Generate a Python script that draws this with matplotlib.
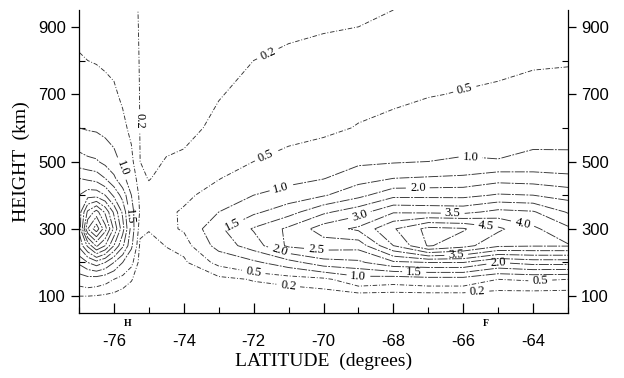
import numpy as np
import matplotlib
matplotlib.use("Agg")
from matplotlib import pyplot as plt
from matplotlib.ticker import MultipleLocator

plt.rcParams['axes.unicode_minus'] = False

# grid (latitude columns, height rows)
latitudes = [-77, -76.75, -76.5, -76.25, -76, -75.75, -75.5, -75.25, -75, -74.5,
             -74, -73, -72, -71, -70, -69, -68, -67, -66, -65, -64, -63]
heights = [50, 100, 150, 200, 250, 300, 350, 400, 450, 500, 600, 700, 800, 900, 950]

# one profile per latitude, values at the heights above
profiles = [
    [0.02, 0.2, 0.7, 1.6, 2.6, 3.1, 3.2, 3.0, 2.5, 1.7, 1.0, 0.72, 0.52, 0.44, 0.42],
    [0.02, 0.2, 0.8, 2.0, 3.6, 5.5, 4.6, 3.3, 2.4, 1.6, 0.95, 0.68, 0.5, 0.42, 0.4],
    [0.02, 0.18, 0.75, 2.3, 4.6, 6.3, 5.2, 3.3, 2.3, 1.55, 0.92, 0.65, 0.48, 0.4, 0.38],
    [0.02, 0.15, 0.65, 2.0, 4.0, 5.2, 4.4, 3.0, 2.0, 1.35, 0.85, 0.6, 0.45, 0.38, 0.36],
    [0.02, 0.12, 0.5, 1.5, 3.0, 3.9, 3.4, 2.4, 1.6, 1.15, 0.78, 0.55, 0.42, 0.36, 0.34],
    [0.02, 0.08, 0.35, 1.0, 2.1, 2.7, 2.4, 1.8, 1.1, 0.9, 0.58, 0.44, 0.35, 0.3, 0.29],
    [0.01, 0.05, 0.22, 0.6, 1.1, 1.3, 1.2, 1.0, 0.8, 0.58, 0.42, 0.33, 0.27, 0.24, 0.23],
    [0.0, 0.02, 0.05, 0.08, 0.13, 0.3, 0.45, 0.4, 0.25, 0.2, 0.19, 0.19, 0.19, 0.19, 0.19],
    [0.0, 0.01, 0.03, 0.05, 0.1, 0.22, 0.3, 0.26, 0.19, 0.16, 0.13, 0.12, 0.12, 0.12, 0.12],
    [0.0, 0.01, 0.04, 0.1, 0.21, 0.4, 0.42, 0.33, 0.26, 0.21, 0.14, 0.1, 0.08, 0.07, 0.07],
    [0.0, 0.02, 0.05, 0.15, 0.3, 0.55, 0.55, 0.4, 0.3, 0.23, 0.15, 0.1, 0.08, 0.07, 0.07],
    [0.0, 0.03, 0.12, 0.6, 1.2, 1.4, 1.0, 0.7, 0.48, 0.37, 0.24, 0.19, 0.15, 0.13, 0.12],
    [0.0, 0.05, 0.22, 0.9, 1.75, 2.05, 1.4, 1.0, 0.75, 0.5, 0.33, 0.25, 0.2, 0.15, 0.13],
    [0.0, 0.04, 0.3, 1.3, 2.6, 2.6, 1.8, 1.2, 0.85, 0.6, 0.38, 0.27, 0.22, 0.18, 0.16],
    [0.0, 0.05, 0.4, 1.8, 2.75, 3.25, 2.4, 1.45, 0.98, 0.7, 0.42, 0.3, 0.24, 0.19, 0.17],
    [0.0, 0.06, 0.8, 1.9, 2.7, 3.6, 2.8, 1.85, 1.3, 0.9, 0.52, 0.38, 0.28, 0.2, 0.18],
    [0.0, 0.05, 0.7, 2.4, 4.0, 4.45, 3.45, 2.35, 1.5, 0.95, 0.6, 0.42, 0.3, 0.23, 0.2],
    [0.0, 0.05, 0.8, 2.5, 5.05, 5.15, 3.4, 2.35, 1.55, 1.0, 0.68, 0.48, 0.35, 0.27, 0.24],
    [0.0, 0.05, 0.8, 2.5, 4.7, 5.05, 3.35, 2.35, 1.6, 1.05, 0.72, 0.52, 0.38, 0.3, 0.27],
    [0.0, 0.05, 0.5, 2.0, 4.1, 4.6, 3.65, 2.55, 1.8, 1.02, 0.76, 0.55, 0.42, 0.33, 0.3],
    [0.0, 0.04, 0.55, 2.2, 4.05, 4.1, 3.55, 2.5, 1.75, 1.1, 0.82, 0.6, 0.46, 0.37, 0.33],
    [0.0, 0.04, 0.5, 2.2, 4.05, 3.6, 2.95, 2.3, 1.65, 1.08, 0.85, 0.63, 0.47, 0.38, 0.35],
]

levels = [0.2, 0.5, 1.0, 1.5, 2.0, 2.5, 3.0, 3.5, 4.0, 4.5, 5.0, 5.5, 6.0]

# (level, latitude, height) where the inline labels sit
label_spots = [
    (0.2, -75.15, 620), (0.2, -71.5, 800), (0.2, -71.0, 140), (0.2, -65.6, 122),
    (0.5, -71.6, 504), (0.5, -65.9, 690), (0.5, -72.0, 172), (0.5, -63.8, 157),
    (1.0, -75.75, 480), (1.0, -71.2, 417), (1.0, -65.8, 505), (1.0, -69.0, 160),
    (1.5, -75.6, 337), (1.5, -72.6, 313), (1.5, -67.4, 172),
    (2.0, -67.3, 410), (2.0, -71.3, 223), (2.0, -65.0, 199),
    (2.5, -70.2, 229), (3.0, -69.0, 348),
    (3.5, -66.3, 351), (3.5, -66.2, 223),
    (4.0, -64.3, 316), (4.5, -65.35, 307),
]

serif = ['Liberation Serif', 'DejaVu Serif']
sans = ['Liberation Sans', 'DejaVu Sans']

field = np.array(profiles).T

fig = plt.figure(figsize=(6.24, 3.78), dpi=100)
ax = fig.add_axes([0.1266, 0.172, 0.7837, 0.8015])

# one contour set per level so each label lands on its own line
for lv in levels:
    if lv <= 0.5:
        ls = (0, (5, 2, 1, 2))
    else:
        ls = (0, (11, 1.5, 2, 1.5))
    cs = ax.contour(latitudes, heights, field, levels=[lv], colors='0.2',
                    linewidths=0.65, linestyles=[ls])
    spots = [(la, hg) for l, la, hg in label_spots if l == lv]
    if spots:
        txts = cs.clabel(manual=spots, fmt='%.1f', inline=True,
                         inline_spacing=2, fontsize=9)
        for t in txts:
            t.set_fontfamily(serif)
            t.set_color('black')

ax.set_xlim(-77, -63)
ax.set_ylim(50, 950)

ax.spines['top'].set_visible(False)
for s in ['left', 'right', 'bottom']:
    ax.spines[s].set_linewidth(0.9)

ax.set_xticks([-76, -74, -72, -70, -68, -66, -64])
ax.set_yticks([100, 300, 500, 700, 900])
ax.xaxis.set_minor_locator(MultipleLocator(1))
ax.yaxis.set_minor_locator(MultipleLocator(100))

ax.tick_params(axis='x', which='major', direction='in', length=7, width=0.9,
               top=False, labelsize=12, pad=15)
ax.tick_params(axis='x', which='minor', direction='in', length=4, width=0.8, top=False)
ax.tick_params(axis='y', which='major', direction='out', length=6, width=0.9,
               left=True, right=True, labelleft=True, labelright=True, labelsize=12)
ax.tick_params(axis='y', which='minor', direction='in', length=4, width=0.8,
               left=True, right=True)
for lab in ax.get_xticklabels() + ax.get_yticklabels():
    lab.set_fontfamily(sans)

ax.set_xlabel('LATITUDE  (degrees)', fontsize=14, family=serif, labelpad=3)
ax.set_ylabel('HEIGHT  (km)', fontsize=14, family=serif, labelpad=6)

# station marks under the axis
ax.text(-75.6, -0.02, 'H', transform=ax.get_xaxis_transform(), ha='center', va='top',
        fontsize=7, family=serif, fontweight='bold')
ax.text(-65.35, -0.02, 'F', transform=ax.get_xaxis_transform(), ha='center', va='top',
        fontsize=7, family=serif, fontweight='bold')

plt.savefig('out.png', dpi=100)
